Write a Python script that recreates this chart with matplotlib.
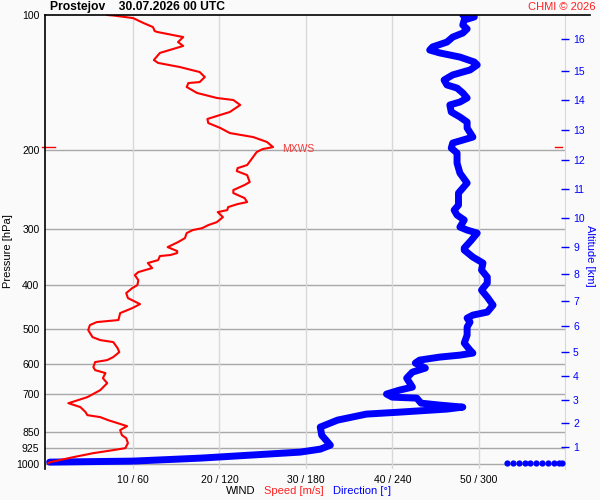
import matplotlib
matplotlib.use('Agg')
import matplotlib.pyplot as plt
from matplotlib.lines import Line2D

plt.rcParams['font.family'] = ['Liberation Sans', 'DejaVu Sans']

# wind speed profile [hPa, m/s]
speed_p = [100, 100.3, 101.6, 104.2, 106.4, 108.6, 109.1, 112.0, 114.9, 117.2, 119.1, 121.5,
           126.0, 127.9, 130.6, 134.0, 137.5, 141.1, 141.8, 144.7, 149.2, 153.1, 154.7, 158.7,
           164.5, 170.5, 174.1, 178.6, 183.3, 187.1, 191.9, 197.0, 199.0, 202.1, 208.4, 216.0,
           219.4, 222.8, 227.4, 235.7, 239.3, 245.6, 249.4, 255.9, 261.2, 263.9, 268.0, 272.2,
           275.0, 282.2, 289.5, 294.0, 298.6, 301.6, 306.3, 314.3, 320.8, 329.1, 335.9, 339.3,
           342.8, 344.6, 351.8, 357.2, 366.5, 374.2, 380.0, 389.9, 400.0, 406.2, 416.8, 427.6,
           441.0, 450.2, 461.8, 478.6, 483.6, 491.1, 503.9, 522.4, 530.5, 535.9, 552.7, 564.2,
           578.8, 587.8, 593.8, 609.3, 618.8, 628.4, 644.8, 661.6, 685.8, 710.9, 729.4, 733.2,
           748.3, 767.8, 779.7, 787.7, 799.9, 812.4, 825.0, 842.1, 864.1, 877.5, 900.3, 923.6,
           933.1, 947.6, 967.2, 992.4, 997.5]
speed = [7.0, 7.8, 10.0, 11.2, 12.3, 12.5, 12.8, 15.8, 15.2, 15.8, 14.6, 13.1,
         12.4, 12.9, 15.4, 17.7, 18.3, 17.7, 16.4, 16.2, 17.4, 19.7, 21.6, 22.4,
         21.2, 18.6, 18.7, 20.1, 21.2, 23.9, 25.5, 26.2, 25.0, 24.3, 23.8, 23.2,
         22.1, 22.0, 23.2, 23.5, 22.9, 21.6, 21.6, 22.9, 23.2, 22.1, 21.0, 20.9,
         19.8, 20.4, 19.7, 18.7, 18.0, 16.9, 16.2, 16.0, 15.2, 14.0, 15.1, 15.1,
         14.3, 13.1, 12.9, 11.7, 12.2, 10.6, 10.2, 10.6, 10.5, 9.9, 9.2, 9.4,
         10.8, 9.9, 8.5, 8.3, 5.8, 5.0, 4.8, 5.3, 6.2, 7.7, 8.2, 8.4,
         7.7, 7.0, 5.6, 5.4, 5.6, 6.8, 6.5, 7.0, 6.2, 4.7, 2.9, 2.5,
         3.9, 4.5, 4.7, 6.2, 7.1, 8.2, 9.3, 8.5, 8.7, 9.2, 9.4, 9.1,
         7.7, 5.4, 3.1, 0.4, 0.2]

# wind direction profile [hPa, deg]
dir_p = [100, 100.5, 101.0, 102.6, 105.3, 107.4, 109.7, 112.0, 114.9, 117.8, 119.7, 121.5,
         124.1, 127.3, 129.2, 132.6, 136.0, 139.6, 143.2, 145.5, 149.2, 153.1, 156.3, 158.7,
         164.5, 168.8, 173.2, 178.6, 187.1, 190.0, 192.9, 198.0, 203.1, 213.8, 225.1, 236.9,
         243.1, 249.4, 265.3, 272.2, 279.2, 286.4, 297.0, 301.6, 306.3, 317.5, 330.8, 334.2,
         346.4, 357.2, 370.3, 383.9, 395.9, 410.5, 425.5, 443.3, 459.4, 466.6, 473.8, 483.6,
         496.2, 517.0, 538.6, 558.4, 567.1, 573.0, 578.8, 587.8, 596.9, 612.4, 625.2, 644.8,
         675.3, 685.8, 699.8, 710.9, 714.5, 733.2, 740.6, 748.3, 755.9, 767.8, 775.6, 799.9,
         829.0, 864.1, 909.8, 928.4, 942.7, 972.1, 987.2, 992.4]
direction = [289, 296, 297, 290, 289, 292, 289, 282, 278, 268, 266, 273,
             287, 297, 299, 294, 282, 276, 278, 285, 289, 292, 287, 280,
             281, 287, 292, 292, 296, 289, 282, 281, 285, 285, 287, 292,
             289, 286, 286, 283, 285, 290, 287, 292, 299, 295, 290, 290,
             296, 303, 302, 306, 306, 302, 306, 310, 306, 296, 292, 294,
             292, 292, 290, 294, 296, 287, 273, 259, 256, 263, 254, 250,
             254, 245, 236, 240, 257, 260, 273, 289, 278, 245, 222, 202,
             190, 191, 197, 190, 176, 107, 60, 2]

# surface direction points
sfc_p = 997
sfc_dir = [320, 324, 328, 332, 336, 340, 344, 348, 352, 356, 358]

# max wind level
mxws_p = 197
mxws_speed = 26.2

p_ticks = [100, 200, 300, 400, 500, 600, 700, 850, 925, 1000]
speed_ticks = [10, 20, 30, 40, 50]
dir_ticks = [60, 120, 180, 240, 300]
alt_km = [1, 2, 3, 4, 5, 6, 7, 8, 9, 10, 11, 12, 13, 14, 15, 16]
alt_p = [919, 813, 722, 638, 564, 494, 434, 378, 329, 284, 244, 210, 180, 155, 133, 113]

bg = '#fafafa'
fig = plt.figure(figsize=(6, 5), dpi=100, facecolor=bg)
ax = fig.add_axes([0.075, 0.062, 0.8667, 0.908], facecolor=bg)

ax.set_yscale('log')
ax.set_ylim(1028, 100)
ax.set_xlim(-0.2, 60)

for p in p_ticks[1:]:
    ax.axhline(p, color='#a8a8a8', lw=1.0, zorder=1)
for s in speed_ticks:
    ax.axvline(s, color='#d8d8d8', lw=1.0, zorder=1)

# direction plotted on the speed scale (60 m/s <-> 360 deg)
ax.plot([d / 6 for d in direction], dir_p, color='#0000ff', lw=5,
        solid_capstyle='round', solid_joinstyle='round', zorder=3)
ax.plot([d / 6 for d in sfc_dir], [sfc_p] * len(sfc_dir), 'o', color='#0000ff',
        ms=4.5, mew=0, zorder=3)
ax.plot(speed, speed_p, color='#ff0000', lw=1.5, zorder=4)

# MXWS marks
ax.text(mxws_speed + 1.0, mxws_p * 1.012, 'MXWS', color='#f03c3c', fontsize=7.5,
        va='center', ha='left')
tr = ax.get_yaxis_transform()
ax.plot([-0.006, 0.019], [mxws_p, mxws_p], color='red', lw=1, transform=tr, clip_on=False)
ax.plot([0.981, 0.994], [mxws_p, mxws_p], color='red', lw=1, transform=tr, clip_on=False)

ax.set_yticks(p_ticks)
ax.set_yticklabels([str(p) for p in p_ticks])
ax.yaxis.set_minor_locator(plt.NullLocator())
ax.tick_params(axis='y', length=0, pad=4, labelsize=7.5)
ax.set_xticks(speed_ticks)
ax.set_xticklabels([f'{s} / {d}' for s, d in zip(speed_ticks, dir_ticks)])
ax.tick_params(axis='x', length=0, pad=4, labelsize=7.5)

ax.spines['top'].set_visible(False)
ax.spines['bottom'].set_visible(False)
ax.spines['right'].set_color('#d8d8d8')
ax.spines['left'].set_color('black')
ax.spines['left'].set_linewidth(1.2)

ax2 = ax.twinx()
ax2.set_yscale('log')
ax2.set_ylim(1028, 100)
ax2.set_yticks(alt_p)
ax2.set_yticklabels([str(k) for k in alt_km])
ax2.yaxis.set_minor_locator(plt.NullLocator())
ax2.tick_params(axis='y', colors='#0000ff', direction='inout', length=5.5, width=1,
                pad=3, labelsize=7.5)
for sp in ax2.spines.values():
    sp.set_visible(False)

fig.add_artist(Line2D([0.075, 0.983], [0.97, 0.97], color='black', lw=1.2))

fig.text(0.083, 0.986, 'Prostejov    30.07.2026 00 UTC', fontsize=8.7, fontweight='bold',
         ha='left', va='center')
fig.text(0.993, 0.986, 'CHMI \u00a9 2026', fontsize=8, color='#ff2020', ha='right', va='center')
fig.text(0.013, 0.498, 'Pressure [hPa]', fontsize=8, rotation=90, ha='center', va='center')
fig.text(0.983, 0.488, 'Altitude [km]', fontsize=8, rotation=270, color='#0000ff',
         ha='center', va='center')
fig.text(0.377, 0.018, 'WIND', fontsize=8, ha='left', va='center')
fig.text(0.44, 0.018, 'Speed [m/s]', fontsize=8, color='#ff2020', ha='left', va='center')
fig.text(0.555, 0.018, 'Direction [\u00b0]', fontsize=8, color='#0000ff', ha='left', va='center')

fig.savefig('out.png', dpi=100, facecolor=bg)
